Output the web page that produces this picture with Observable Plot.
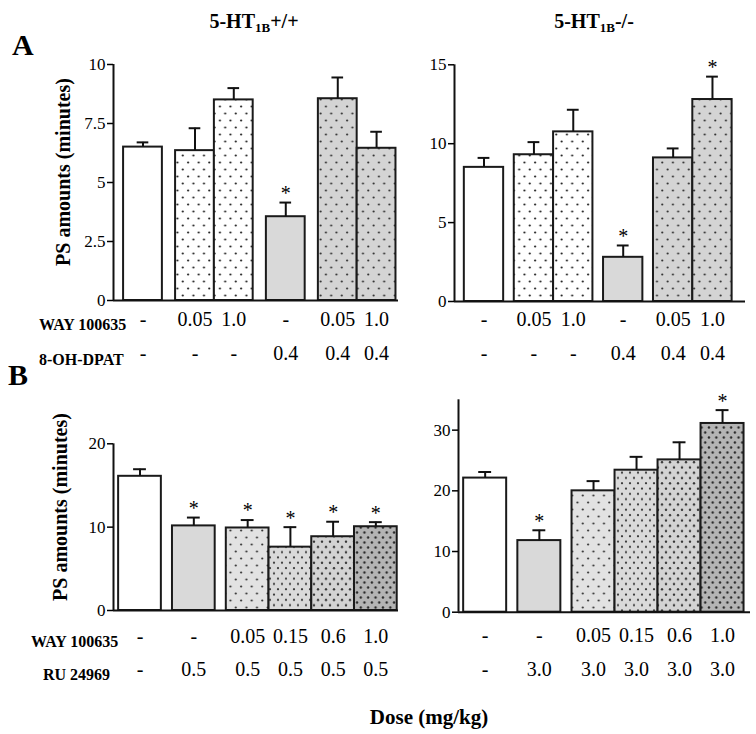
<!DOCTYPE html>
<html><head><meta charset="utf-8">
<script src="https://cdn.jsdelivr.net/npm/d3@7"></script>
<script src="https://cdn.jsdelivr.net/npm/@observablehq/plot@0.6"></script>
<style>
body{margin:0;background:#fff;}
#fig{position:relative;width:756px;height:734px;font-family:"Liberation Serif","Times New Roman",serif;color:#000;overflow:hidden;}
.abs{position:absolute;white-space:nowrap;}
.b{font-weight:bold;}
.title{font-size:20px;font-weight:bold;line-height:20px;transform:translateX(-50%);}
.title sub{font-size:13px;vertical-align:-4px;line-height:0;}
.rowlab{font-size:16px;font-weight:bold;line-height:20px;}
.ylab{font-size:20px;font-weight:bold;transform:translate(-50%,-50%) rotate(-90deg);line-height:20px;}
.panel{position:absolute;}
</style></head><body>
<svg width="0" height="0" style="position:absolute">
<defs>
  <pattern id="pWhiteDots" patternUnits="userSpaceOnUse" width="10.6" height="14">
    <rect width="10.6" height="14" fill="#fff"/>
    <circle cx="2.6" cy="3.5" r="1.1" fill="#222"/>
    <circle cx="7.9" cy="10.5" r="1.1" fill="#222"/>
  </pattern>
  <pattern id="pGrayDotsA" patternUnits="userSpaceOnUse" width="10.6" height="14">
    <rect width="10.6" height="14" fill="#d4d4d4"/>
    <circle cx="2.6" cy="3.5" r="1.1" fill="#333"/>
    <circle cx="7.9" cy="10.5" r="1.1" fill="#333"/>
  </pattern>
  <pattern id="pB1" patternUnits="userSpaceOnUse" width="10.6" height="14">
    <rect width="10.6" height="14" fill="#e2e2e2"/>
    <circle cx="2.6" cy="3.5" r="1.1" fill="#333"/>
    <circle cx="7.9" cy="10.5" r="1.1" fill="#333"/>
  </pattern>
  <pattern id="pB2" patternUnits="userSpaceOnUse" width="8" height="10.6">
    <rect width="8" height="10.6" fill="#dadada"/>
    <circle cx="2" cy="2.6" r="1.1" fill="#333"/>
    <circle cx="6" cy="7.9" r="1.1" fill="#333"/>
  </pattern>
  <pattern id="pB3" patternUnits="userSpaceOnUse" width="8" height="10.6">
    <rect width="8" height="10.6" fill="#d3d3d3"/>
    <circle cx="2" cy="2.6" r="1.2" fill="#333"/>
    <circle cx="6" cy="7.9" r="1.2" fill="#333"/>
  </pattern>
  <pattern id="pB4" patternUnits="userSpaceOnUse" width="7.4" height="10">
    <rect width="7.4" height="10" fill="#b4b4b4"/>
    <circle cx="1.85" cy="2.5" r="1.2" fill="#2a2a2a"/>
    <circle cx="5.55" cy="7.5" r="1.2" fill="#2a2a2a"/>
  </pattern>
</defs></svg>
<div id="fig"></div>
<script>
// ---------- data ----------
// Panel A
const wayA = ["-", "0.05", "1.0", "-", "0.05", "1.0"];
const dpatA = ["-", "-", "-", "0.4", "0.4", "0.4"];
const treatA = ["control", "way", "way", "agonist", "combo", "combo"];
const groupA = [0, 1, 1, 2, 3, 3];
const wtA = [6.5, 6.35, 8.5, 3.55, 8.55, 6.45];
const wtAerr = [0.2, 0.95, 0.5, 0.6, 0.9, 0.7];
const wtAstar = [0, 0, 0, 1, 0, 0];
const koA = [8.5, 9.3, 10.75, 2.8, 9.1, 12.8];
const koAerr = [0.6, 0.8, 1.4, 0.75, 0.6, 1.45];
const koAstar = [0, 0, 0, 1, 0, 1];
const ticksAwt = [0, 2.5, 5, 7.5, 10];
const ticksAko = [0, 5, 10, 15];
// Panel B
const wayB = ["-", "-", "0.05", "0.15", "0.6", "1.0"];
const ruBwt = ["-", "0.5", "0.5", "0.5", "0.5", "0.5"];
const ruBko = ["-", "3.0", "3.0", "3.0", "3.0", "3.0"];
const treatB = ["control", "agonist", "combo1", "combo2", "combo3", "combo4"];
const groupB = [0, 1, 2, 2, 2, 2];
const wtB = [16.1, 10.15, 9.9, 7.6, 8.85, 10.05];
const wtBerr = [0.85, 1.0, 0.95, 2.4, 1.8, 0.55];
const wtBstar = [0, 1, 1, 1, 1, 1];
const koB = [22.1, 11.8, 20.0, 23.4, 25.1, 31.1];
const koBerr = [1.0, 1.7, 1.6, 2.2, 2.9, 2.2];
const koBstar = [0, 1, 0, 0, 0, 1];
const ticksBwt = [0, 10, 20];
const ticksBko = [0, 10, 20, 30];

// ---------- styling ----------
const fills = {
  control: "#ffffff", way: "url(#pWhiteDots)", agonist: "#d9d9d9", combo: "url(#pGrayDotsA)",
  combo1: "url(#pB1)", combo2: "url(#pB2)", combo3: "url(#pB3)", combo4: "url(#pB4)"
};

const fig = document.getElementById("fig");
function add(html, cls, left, top) {
  const d = document.createElement("div");
  d.className = "abs " + cls;
  d.style.left = left + "px"; d.style.top = top + "px";
  d.innerHTML = html; fig.appendChild(d); return d;
}

function panel(o) {
  let pos = 0, prev = o.group[0];
  const data = o.values.map((v, i) => {
    if (i > 0) { pos += 1; if (o.group[i] !== prev) pos += o.gap; prev = o.group[i]; }
    return {x1: pos, x2: pos + 1, xc: pos + 0.5, v, top: v + o.errs[i], star: !!o.stars[i],
            fill: fills[o.treat[i]], r0: o.rows[0][i], r1: o.rows[1][i]};
  });
  const xmax = pos + 1, cap = 0.15;
  const chart = Plot.plot({
    width: o.width, height: o.height,
    marginTop: o.mt, marginBottom: o.mb, marginLeft: o.ml, marginRight: o.mr,
    x: {domain: [-o.padL, xmax + o.padR], axis: null},
    y: {domain: o.yDomain, axis: null},
    color: {type: "identity"},
    style: {fontFamily: "'Liberation Serif','Times New Roman',serif", fontSize: "17px", overflow: "visible", background: "transparent", color: "#000"},
    marks: [
      Plot.rect(data, {x1: "x1", x2: "x2", y1: 0, y2: "v", fill: "fill", stroke: "#1a1a1a", strokeWidth: 2}),
      Plot.ruleX(data, {x: "xc", y1: "v", y2: "top", strokeWidth: 2, stroke: "#111"}),
      Plot.ruleY(data, {y: "top", x1: d => d.xc - cap, x2: d => d.xc + cap, strokeWidth: 2, stroke: "#111"}),
      Plot.text(data.filter(d => d.star), {x: "xc", y: "top", text: () => "*", dy: -9, fontSize: 20}),
      Plot.ruleX([-o.padL], {strokeWidth: 2, stroke: "#111"}),
      Plot.ruleY([0], {strokeWidth: 2, stroke: "#111"}),
      Plot.axisY({ticks: o.ticks, tickSize: 6, tickPadding: 2, tickFormat: d => String(d), label: null, fontSize: 17, strokeWidth: 1.5}),
      Plot.text(data, {x: "xc", frameAnchor: "bottom", dy: o.rowDy[0], text: "r0", fontSize: 20}),
      Plot.text(data, {x: "xc", frameAnchor: "bottom", dy: o.rowDy[1], text: "r1", fontSize: 20})
    ]
  });
  chart.classList.add("panel");
  chart.style.left = o.left + "px"; chart.style.top = o.top + "px";
  fig.appendChild(chart);
}

panel({values: wtA, errs: wtAerr, stars: wtAstar, treat: treatA, group: groupA, rows: [wayA, dpatA],
  yDomain: [0, 10], ticks: ticksAwt, gap: 0.34, padL: 0.26, padR: 0.065,
  left: 0, top: 40, width: 400, height: 330, mt: 24, mb: 70, ml: 113, mr: 2, rowDy: [25, 59]});
panel({values: koA, errs: koAerr, stars: koAstar, treat: treatA, group: groupA, rows: [wayA, dpatA],
  yDomain: [0, 15], ticks: ticksAko, gap: 0.27, padL: 0.25, padR: 0.34,
  left: 400, top: 40, width: 356, height: 330, mt: 24.3, mb: 69, ml: 54, mr: 11, rowDy: [24, 58]});
panel({values: wtB, errs: wtBerr, stars: wtBstar, treat: treatB, group: groupB, rows: [wayB, ruBwt],
  yDomain: [0, 20], ticks: ticksBwt, gap: 0.26, padL: 0.12, padR: 0.03,
  left: 0, top: 380, width: 400, height: 310, mt: 63.3, mb: 80, ml: 113, mr: 2, rowDy: [32, 65]});
panel({values: koB, errs: koBerr, stars: koBstar, treat: treatB, group: groupB, rows: [wayB, ruBko],
  yDomain: [0, 35], ticks: ticksBko, gap: 0.26, padL: 0.12, padR: 0.15,
  left: 400, top: 380, width: 356, height: 310, mt: 19.3, mb: 78.3, ml: 58, mr: 6, rowDy: [30, 64]});

// ---------- text ----------
add("5-HT<sub>1B</sub>+/+", "title", 254, 11);
add("5-HT<sub>1B</sub>-/-", "title", 594, 11);
add("A", "b", 12, 28).style.fontSize = "30px";
add("B", "b", 8, 358).style.fontSize = "30px";
add("PS amounts (minutes)", "ylab", 63, 172);
add("PS amounts (minutes)", "ylab", 60, 507);
add("WAY 100635", "rowlab", 39, 315);
add("8-OH-DPAT", "rowlab", 39, 350);
add("WAY 100635", "rowlab", 31, 632);
add("RU 24969", "rowlab", 43, 665);
const dose = add("Dose (mg/kg)", "b", 429, 705);
dose.style.fontSize = "21px"; dose.style.transform = "translateX(-50%)";
</script>
</body></html>
